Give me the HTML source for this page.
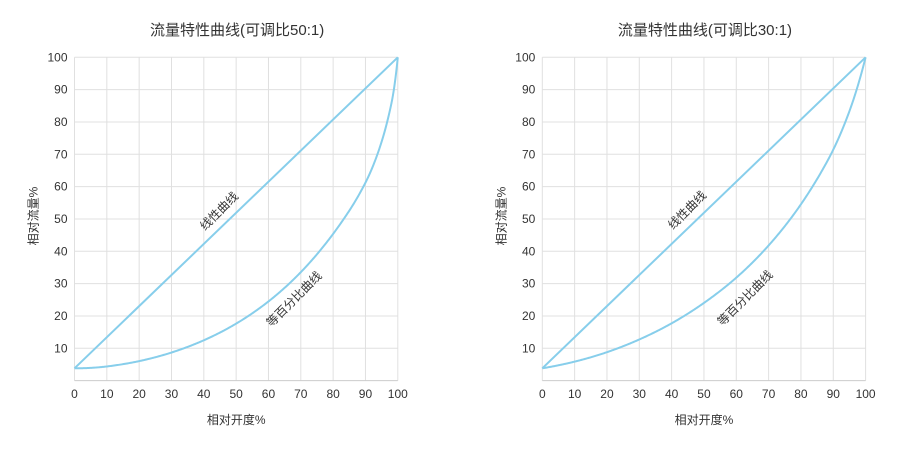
<!DOCTYPE html>
<html><head><meta charset="utf-8"><style>
html,body{margin:0;padding:0;background:#fff;}
svg text{font-family:"Liberation Sans","Noto Sans CJK SC",sans-serif;fill:#333;}
</style></head><body>
<svg id="s" width="908" height="445" viewBox="0 0 908 445" xmlns="http://www.w3.org/2000/svg"></svg>
<script>
var s=document.getElementById('s'),NS='http://www.w3.org/2000/svg';
function el(t,a,txt){var e=document.createElementNS(NS,t);for(var k in a)e.setAttribute(k,a[k]);if(txt!=null)e.textContent=txt;s.appendChild(e);return e;}
var L0=Math.log(3.8),L1=Math.log(100);
// integrate piecewise-linear log-slope function
function slopeCurve(sp){
 function sl(x){for(var i=0;i<sp.length-1;i++){if(x<=sp[i+1][0]){var t=(x-sp[i][0])/(sp[i+1][0]-sp[i][0]);return sp[i][1]+t*(sp[i+1][1]-sp[i][1]);}}return sp[sp.length-1][1];}
 var dx=0.25,acc=[0],x;
 for(x=0;x<100-1e-9;x+=dx){acc.push(acc[acc.length-1]+dx*(sl(x)+sl(x+dx))/2);}
 var tot=acc[acc.length-1],k=(L1-L0)/tot,out=[];
 for(var i=0;i<acc.length;i++)out.push([i*dx,Math.exp(L0+k*acc[i])]);
 return out;
}
function chart(x0,title,eq,lab1,lab2){
 var x1=x0+323.3,y0=380.6,yt=57.3,sx=(x1-x0)/100,sy=(y0-yt)/100;
 var X=function(v){return x0+v*sx},Y=function(v){return y0-v*sy};
 for(var i=0;i<=10;i++){var gx=X(i*10);el('line',{x1:gx,x2:gx,y1:yt,y2:y0,stroke:'#e0e0e0','stroke-width':1});
  el('text',{x:gx,y:398,'font-size':12,'text-anchor':'middle'},String(i*10));}
 for(var j=1;j<=10;j++){var gy=Y(j*10);el('line',{x1:x0,x2:x1,y1:gy,y2:gy,stroke:'#e0e0e0','stroke-width':1});
  el('text',{x:x0-7,y:gy+4,'font-size':12,'text-anchor':'end'},String(j*10));}
 el('line',{x1:x0,x2:x1,y1:y0,y2:y0,stroke:'#ccc','stroke-width':1});
 el('text',{x:(x0+x1)/2+1,y:35,'font-size':15,'text-anchor':'middle'},title);
 el('text',{x:(x0+x1)/2,y:424,'font-size':12,'text-anchor':'middle'},'相对开度%');
 el('text',{x:0,y:0,'font-size':12,'text-anchor':'middle',transform:'translate('+(x0-37)+',216) rotate(-90)'},'相对流量%');
 el('line',{x1:X(0),y1:Y(3.8),x2:X(100),y2:Y(100),stroke:'#87ceeb','stroke-width':2});
 var d=eq.map(function(p,k){return (k?'L':'M')+X(p[0]).toFixed(2)+','+Y(p[1]).toFixed(2)}).join(' ');
 el('path',{d:d,fill:'none',stroke:'#87ceeb','stroke-width':2,'stroke-linejoin':'round'});
 el('text',{x:0,y:0,'font-size':12,'text-anchor':'middle',transform:'translate('+lab1[0]+','+lab1[1]+') rotate(-45)'},'线性曲线');
 el('text',{x:0,y:0,'font-size':12,'text-anchor':'middle',transform:'translate('+lab2[0]+','+lab2[1]+') rotate(-45)'},'等百分比曲线');
}
var left=slopeCurve([[0,0],[10,.028],[20,.036],[30,.037],[60,.032],[85,.029],[90,.032],[95,.043],[98,.055],[100,.10]]);
var right=slopeCurve([[0,.045],[10,.042],[20,.039],[35,.033],[55,.028],[75,.0265],[88,.027],[95,.033],[100,.04]]);
chart(74.5,'流量特性曲线(可调比50:1)',left,[222,214],[297,302]);
chart(542.3,'流量特性曲线(可调比30:1)',right,[690,213],[748,301]);
</script>
</body></html>
